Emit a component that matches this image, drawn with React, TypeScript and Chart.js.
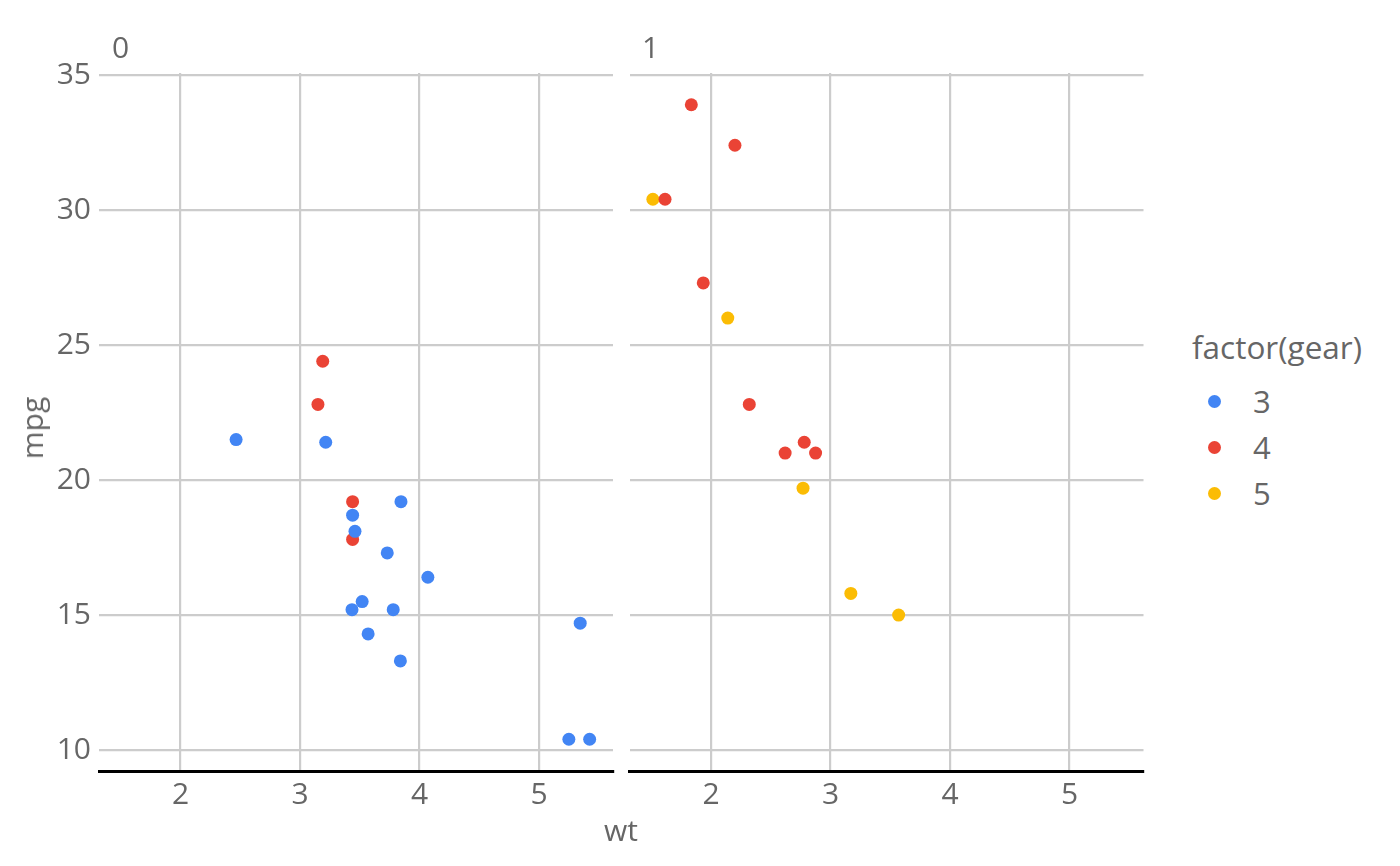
import React, { useEffect, useRef } from "react";
import { Chart, registerables } from "chart.js";

Chart.register(...registerables);

// mtcars: weight, mpg, transmission (am) and gear
const carWt = [2.62, 2.875, 2.32, 3.215, 3.44, 3.46, 3.57, 3.19, 3.15, 3.44, 3.44, 4.07, 3.73, 3.78, 5.25, 5.424, 5.345, 2.2, 1.615, 1.835, 2.465, 3.52, 3.435, 3.84, 3.845, 1.935, 2.14, 1.513, 3.17, 2.77, 3.57, 2.78];
const carMpg = [21.0, 21.0, 22.8, 21.4, 18.7, 18.1, 14.3, 24.4, 22.8, 19.2, 17.8, 16.4, 17.3, 15.2, 10.4, 10.4, 14.7, 32.4, 30.4, 33.9, 21.5, 15.5, 15.2, 13.3, 19.2, 27.3, 26.0, 30.4, 15.8, 19.7, 15.0, 21.4];
const carAm = [1, 1, 1, 0, 0, 0, 0, 0, 0, 0, 0, 0, 0, 0, 0, 0, 0, 1, 1, 1, 0, 0, 0, 0, 0, 1, 1, 1, 1, 1, 1, 1];
const carGear = [4, 4, 4, 3, 3, 3, 3, 4, 4, 4, 4, 3, 3, 3, 3, 3, 3, 4, 4, 4, 3, 3, 3, 3, 3, 4, 5, 5, 5, 5, 5, 4];

const facets = [0, 1];
const gearLevels = [3, 4, 5];
const gearColors = ["#4285F4", "#EA4335", "#FBBC04"];
const xTicks = [2, 3, 4, 5];
const yTicks = [10, 15, 20, 25, 30, 35];
const xRange = [1.3175, 5.6195];
const yRange = [9.225, 35.075];

const FONT = "'Open Sans', 'Noto Sans', sans-serif";
const TEXT = "#666666";

function Panel({ am, showY, left, width }: { am: number; showY: boolean; left: number; width: number }) {
  const ref = useRef<HTMLCanvasElement>(null);
  useEffect(() => {
    if (!ref.current) return;
    const datasets = gearLevels.map((g, gi) => ({
      label: String(g),
      data: carWt
        .map((w, i) => ({ x: w, y: carMpg[i], am: carAm[i], gear: carGear[i] }))
        .filter((d) => d.am === am && d.gear === g)
        .map((d) => ({ x: d.x, y: d.y })),
      backgroundColor: gearColors[gi],
      borderWidth: 0,
      pointRadius: 6.5,
      pointHoverRadius: 6.5,
    }));
    const chart = new Chart(ref.current, {
      type: "scatter",
      data: { datasets },
      options: {
        animation: false,
        responsive: false,
        maintainAspectRatio: false,
        layout: { padding: { top: 73, bottom: 0, left: showY ? 0 : 9.5, right: showY ? 7 : 6 } },
        plugins: { legend: { display: false }, tooltip: { enabled: false }, title: { display: false } },
        scales: {
          x: {
            type: "linear",
            min: xRange[0],
            max: xRange[1],
            afterBuildTicks: (s: any) => {
              s.ticks = xTicks.map((v) => ({ value: v }));
            },
            afterFit: (s: any) => {
              s.height = 95;
            },
            grid: { color: "#cccccc", lineWidth: 2.2, drawTicks: false },
            border: { display: true, color: "#000000", width: 3 },
            ticks: { color: TEXT, font: { family: FONT, size: 30 }, padding: 6, maxRotation: 0 },
          },
          y: {
            type: "linear",
            min: yRange[0],
            max: yRange[1],
            afterBuildTicks: (s: any) => {
              s.ticks = yTicks.map((v) => ({ value: v }));
            },
            afterFit: (s: any) => {
              s.width = showY ? 99 : 0;
            },
            grid: { color: "#cccccc", lineWidth: 2.2, drawTicks: false },
            border: { display: false },
            ticks: { display: showY, color: TEXT, font: { family: FONT, size: 30 }, padding: 8 },
          },
        },
      },
    });
    return () => chart.destroy();
  }, [am, showY]);
  return (
    <div style={{ position: "absolute", left, top: 0, width, height: 866 }}>
      <canvas ref={ref} width={width} height={866} style={{ width, height: 866 }} />
    </div>
  );
}

export default function App() {
  const textStyle: React.CSSProperties = {
    position: "absolute",
    fontFamily: FONT,
    fontSize: 30,
    color: TEXT,
    lineHeight: "1",
    whiteSpace: "nowrap",
  };
  return (
    <div style={{ position: "absolute", left: 0, top: 0, width: 1400, height: 866, background: "#ffffff", overflow: "hidden" }}>
      <Panel am={facets[0]} showY={true} left={0} width={620} />
      <Panel am={facets[1]} showY={false} left={620} width={530} />
      <div style={{ ...textStyle, left: 112, top: 32 }}>{String(facets[0])}</div>
      <div style={{ ...textStyle, left: 642, top: 32 }}>{String(facets[1])}</div>
      <div style={{ ...textStyle, left: 621, top: 830, transform: "translate(-50%, -50%)" }}>wt</div>
      <div style={{ ...textStyle, left: 32, top: 428, transform: "translate(-50%, -50%) rotate(-90deg)" }}>mpg</div>
      <div style={{ ...textStyle, fontSize: 31.5, left: 1192, top: 347, transform: "translateY(-50%)" }}>factor(gear)</div>
      {gearLevels.map((g, i) => (
        <React.Fragment key={g}>
          <div
            style={{
              position: "absolute",
              left: 1214 - 6.5,
              top: 401 + i * 46 - 6.5,
              width: 13,
              height: 13,
              borderRadius: "50%",
              background: gearColors[i],
            }}
          />
          <div style={{ ...textStyle, fontSize: 31, left: 1253, top: 401 + i * 46, transform: "translateY(-50%)" }}>{String(g)}</div>
        </React.Fragment>
      ))}
    </div>
  );
}
